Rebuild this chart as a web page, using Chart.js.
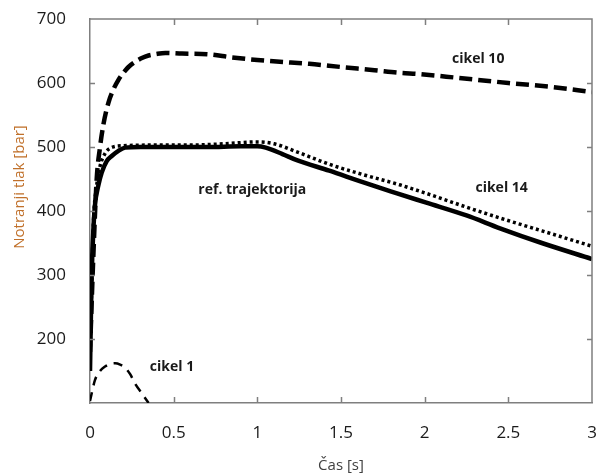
<!DOCTYPE html>
<html>
<head>
<meta charset="utf-8">
<script src="https://cdn.jsdelivr.net/npm/chart.js@4"></script>
<style>
  html, body { margin: 0; padding: 0; background: #fff; overflow: hidden; }
  #wrap { width: 599px; height: 475px; }
  canvas { display: block; }
</style>
</head>
<body>
<div id="wrap"><canvas id="chart-canvas"></canvas></div>
<script>
// ref. trajektorija (solid)
const refTime = [0, 0.005, 0.01, 0.02, 0.03, 0.05, 0.07, 0.1, 0.13, 0.17, 0.21, 0.3, 0.5, 0.7, 0.9, 1.0, 1.05, 1.15, 1.24, 1.43, 1.63, 1.83, 2.01, 2.25, 2.45, 2.7, 3.0];
const refVal  = [150, 230, 300, 370, 410, 440, 460, 478, 486, 494, 499, 500, 500, 500, 501, 501, 499, 489, 479, 463, 445, 428, 413, 393, 373, 350, 325];

// cikel 14 (dotted)
const c14Time = [0, 0.01, 0.02, 0.04, 0.06, 0.09, 0.12, 0.2, 0.4, 0.6, 0.8, 1.0, 1.1, 1.24, 1.43, 1.63, 1.85, 2.05, 2.25, 2.45, 2.7, 3.0];
const c14Val  = [160, 280, 380, 440, 470, 490, 498, 502, 503, 503, 505, 508, 505, 492, 473, 457, 441, 424, 406, 389, 369, 345];

// cikel 10 (dashed)
const c10Time = [0, 0.02, 0.04, 0.06, 0.08, 0.11, 0.14, 0.17, 0.2, 0.23, 0.27, 0.31, 0.35, 0.39, 0.45, 0.55, 0.7, 0.85, 1.0, 1.2, 1.31, 1.5, 1.7, 1.85, 1.97, 2.2, 2.5, 2.75, 3.0];
const c10Val  = [180, 330, 450, 500, 535, 569, 590, 605, 616, 625, 633, 639, 643, 645, 647, 646, 645, 640, 636, 632, 630, 625, 620, 616, 614, 608, 600, 594, 586];

// cikel 1 (dashed, short)
const c1Time = [0, 0.03, 0.06, 0.09, 0.12, 0.15, 0.18, 0.21, 0.24, 0.27, 0.31, 0.35];
const c1Val  = [103, 136, 150, 157, 161, 162, 160, 155, 145, 130, 115, 100];

// labels placed in data coordinates
const notes = [
  { text: 'cikel 10', x: 2.32, y: 637 },
  { text: 'ref. trajektorija', x: 0.97, y: 433 },
  { text: 'cikel 14', x: 2.46, y: 436 },
  { text: 'cikel 1', x: 0.49, y: 156 }
];

const pts = (xs, ys) => xs.map((x, i) => ({ x: x, y: ys[i] }));

const frame = {
  id: 'frame',
  afterDraw(chart) {
    const { ctx, chartArea: a, scales } = chart;
    ctx.save();
    ctx.strokeStyle = '#7f7f7f';
    ctx.lineWidth = 1.5;
    ctx.beginPath();
    ctx.moveTo(a.left, a.top); ctx.lineTo(a.right, a.top); ctx.lineTo(a.right, a.bottom);
    // inner ticks
    scales.y.ticks.forEach(t => {
      if (t.value <= 100 || t.value >= 700) return;
      const py = Math.round(scales.y.getPixelForValue(t.value)) + 0.5;
      ctx.moveTo(a.left, py); ctx.lineTo(a.left + 5, py);
      ctx.moveTo(a.right, py); ctx.lineTo(a.right - 5, py);
    });
    scales.x.ticks.forEach(t => {
      if (t.value <= 0 || t.value >= 3) return;
      const px = Math.round(scales.x.getPixelForValue(t.value)) + 0.5;
      ctx.moveTo(px, a.bottom); ctx.lineTo(px, a.bottom - 6);
      ctx.moveTo(px, a.top); ctx.lineTo(px, a.top + 6);
    });
    ctx.stroke();

    // annotations
    ctx.fillStyle = '#1a1a1a';
    ctx.font = 'bold 14px "Open Sans"';
    ctx.textAlign = 'center';
    ctx.textBaseline = 'middle';
    notes.forEach(n => {
      ctx.fillText(n.text, scales.x.getPixelForValue(n.x), scales.y.getPixelForValue(n.y));
    });

    // y axis title
    ctx.translate(20, 187);
    ctx.rotate(-Math.PI / 2);
    ctx.fillStyle = '#c0702a';
    ctx.font = '15px "Open Sans"';
    ctx.fillText('Notranji tlak [bar]', 0, 0);
    ctx.restore();
  }
};

const baseDs = { pointRadius: 0, fill: false, borderColor: '#000', cubicInterpolationMode: 'monotone', borderCapStyle: 'butt' };

new Chart(document.getElementById('chart-canvas'), {
  type: 'line',
  data: {
    datasets: [
      Object.assign({}, baseDs, { label: 'cikel 1', data: pts(c1Time, c1Val), borderWidth: 2.5, borderDash: [9, 7] }),
      Object.assign({}, baseDs, { label: 'cikel 10', data: pts(c10Time, c10Val), borderWidth: 4.5, borderDash: [13, 6] }),
      Object.assign({}, baseDs, { label: 'cikel 14', data: pts(c14Time, c14Val), borderWidth: 3.5, borderDash: [3, 3] }),
      Object.assign({}, baseDs, { label: 'ref. trajektorija', data: pts(refTime, refVal), borderWidth: 4.5 })
    ]
  },
  options: {
    responsive: true,
    maintainAspectRatio: false,
    animation: false,
    layout: { padding: { top: 19, right: 7, left: 0, bottom: 0 } },
    plugins: { legend: { display: false }, tooltip: { enabled: false } },
    scales: {
      x: {
        type: 'linear',
        min: 0, max: 3,
        afterFit(s) { s.height = 72; s.paddingLeft = 0; s.paddingRight = 0; },
        grid: { display: false, drawTicks: false },
        border: { color: '#7f7f7f', width: 1.5 },
        ticks: { stepSize: 0.5, padding: 20, color: '#1a1a1a', font: { family: 'Open Sans', size: 17 }, callback: v => String(v) },
        title: { display: true, text: 'Čas [s]', color: '#404040', font: { family: 'Open Sans', size: 15 }, padding: { top: 0, bottom: 0 } }
      },
      y: {
        min: 100, max: 700,
        afterFit(s) { s.width = 90; s.paddingTop = 0; s.paddingBottom = 0; },
        grid: { display: false, drawTicks: false },
        border: { color: '#7f7f7f', width: 1.5 },
        ticks: {
          stepSize: 100, padding: 24, color: '#1a1a1a', font: { family: 'Open Sans', size: 17 },
          callback: v => (v === 100 ? '' : v)
        }
      }
    }
  },
  plugins: [frame]
});
</script>
</body>
</html>
